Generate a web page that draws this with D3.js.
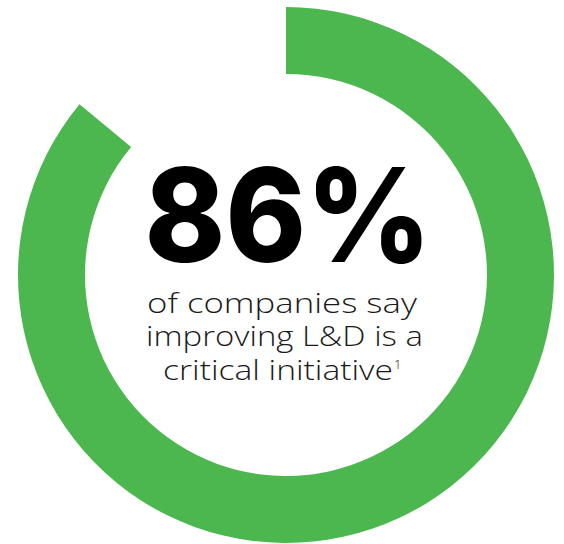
<!DOCTYPE html>
<html>
<head>
<meta charset="utf-8">
<script src="https://cdn.jsdelivr.net/npm/d3@7"></script>
<style>
  html, body { margin: 0; padding: 0; background: #fff; }
  svg { display: block; }
</style>
</head>
<body>
<svg width="564" height="544"></svg>
<script>
// Defined data
const labels = ["say critical", "other"];
const values = [86, 14];
const headline = "86%";
const captionLines = ["of companies say", "improving L&D is a", "critical initiative"];
const footnote = "1";

const cx = 286, cy = 275;
const outerR = 268, innerR = 201;

let svg = d3.select("svg");

let g = svg.append("g")
    .attr("transform", `translate(${cx}, ${cy})`);

// Pie generator, no sorting so the arc starts at 12 o'clock
let pie = d3.pie().sort(null).value(d => d);

let arc = d3.arc()
    .innerRadius(innerR)
    .outerRadius(outerR);

// Only the first slice is drawn, the rest stays blank
g.selectAll("path")
    .data(pie(values))
    .enter()
    .append("path")
    .attr("fill", (d, i) => i === 0 ? "#4cb74e" : "none")
    .attr("d", arc);

// Stretch a text horizontally so it reaches a given width (the original font is wide)
function fitWidth(sel, centerX, targetWidth) {
  let w = sel.node().getComputedTextLength();
  let k = targetWidth / w;
  sel.attr("x", 0)
     .attr("transform", `translate(${centerX},0) scale(${k},1)`);
  return k;
}

// Big number
let big = svg.append("text")
    .attr("y", 262)
    .attr("text-anchor", "middle")
    .style("font-family", "Inter, 'Open Sans', sans-serif")
    .style("font-weight", 800)
    .style("font-size", "130px")
    .style("fill", "#000")
    .text(headline);
fitWidth(big, 288, 287);

// Caption lines (reference widths and centres per line)
let baselines = [313, 346, 380];
let lineW = [270, 277, 230];
let lineX = [282, 284.5, 278];
let capTexts = captionLines.map((line, i) =>
  svg.append("text")
    .attr("y", baselines[i])
    .attr("text-anchor", "middle")
    .style("font-family", "'Open Sans', sans-serif")
    .style("font-weight", 300)
    .style("font-size", "27px")
    .style("fill", "#1a1a1a")
    .text(line)
);
capTexts.forEach((t, i) => fitWidth(t, lineX[i], lineW[i]));

// footnote marker after the last line
svg.append("text")
  .attr("x", lineX[2] + lineW[2] / 2 + 1)
  .attr("y", 369)
  .style("font-family", "'Open Sans', sans-serif")
  .style("font-weight", 300)
  .style("font-size", "13px")
  .style("fill", "#1a1a1a")
  .text(footnote);
</script>
</body>
</html>
